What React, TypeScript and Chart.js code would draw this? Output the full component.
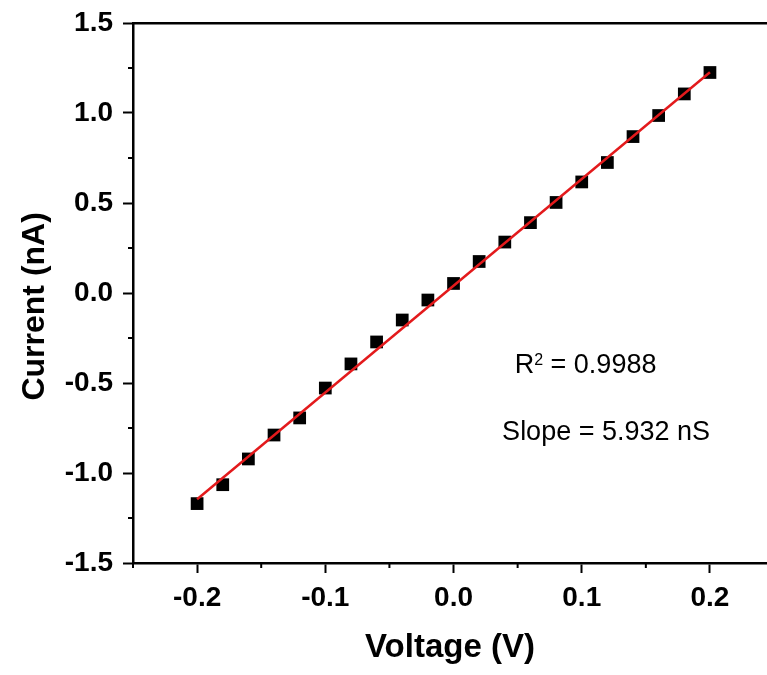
import React, { useEffect, useRef } from 'react';
import { Chart, registerables } from 'chart.js';

Chart.register(...registerables);

// ---- data ----
const voltage = [-0.2, -0.18, -0.16, -0.14, -0.12, -0.1, -0.08, -0.06, -0.04, -0.02, 0, 0.02, 0.04, 0.06, 0.08, 0.1, 0.12, 0.14, 0.16, 0.18, 0.2];
const current = [-1.17, -1.065, -0.922, -0.789, -0.694, -0.528, -0.394, -0.272, -0.15, -0.039, 0.053, 0.175, 0.283, 0.391, 0.503, 0.617, 0.725, 0.869, 0.986, 1.106, 1.225];
const fitVoltage = [-0.2, 0.2];
const fitCurrent = [-1.146, 1.226];

const xTickValues = [-0.25, -0.2, -0.15, -0.1, -0.05, 0, 0.05, 0.1, 0.15, 0.2];
const xMajorTicks = [-0.2, -0.1, 0, 0.1, 0.2];
const yTickValues = [-1.5, -1.25, -1, -0.75, -0.5, -0.25, 0, 0.25, 0.5, 0.75, 1, 1.25, 1.5];
const yMajorTicks = [-1.5, -1, -0.5, 0, 0.5, 1, 1.5];

const xTitle = 'Voltage (V)';
const yTitle = 'Current (nA)   ';
const rSquaredValue = '0.9988';
const slopeLabel = 'Slope = 5.932 nS';
const rSquaredPos = [0.0477, -0.444];
const slopePos = [0.0379, -0.817];

const FONT = '"Liberation Sans", Arial, sans-serif';

const isIn = (list: number[], v: number) => list.some((m) => Math.abs(m - v) < 1e-9);

const minorTicksPlugin = {
  id: 'minorTicks',
  afterDraw(chart: any) {
    const { ctx } = chart;
    const xs = chart.scales.x;
    const ys = chart.scales.y;
    ctx.save();
    ctx.strokeStyle = '#000';
    ctx.lineWidth = 2;
    ctx.beginPath();
    xTickValues.filter((v) => !isIn(xMajorTicks, v)).forEach((v) => {
      const px = xs.getPixelForValue(v);
      ctx.moveTo(px, xs.top);
      ctx.lineTo(px, xs.top + 5);
    });
    yTickValues.filter((v) => !isIn(yMajorTicks, v)).forEach((v) => {
      const py = ys.getPixelForValue(v);
      ctx.moveTo(ys.right - 5, py);
      ctx.lineTo(ys.right, py);
    });
    ctx.stroke();
    ctx.restore();
  },
};

const annotationPlugin = {
  id: 'fitAnnotation',
  afterDraw(chart: any) {
    const { ctx } = chart;
    const xs = chart.scales.x;
    const ys = chart.scales.y;
    ctx.save();
    ctx.fillStyle = '#000';
    ctx.textAlign = 'left';
    ctx.textBaseline = 'alphabetic';
    // R^2
    let px = xs.getPixelForValue(rSquaredPos[0]);
    const py = ys.getPixelForValue(rSquaredPos[1]);
    ctx.font = `27px ${FONT}`;
    ctx.fillText('R', px, py);
    px += ctx.measureText('R').width;
    ctx.font = `16px ${FONT}`;
    ctx.fillText('2', px, py - 8);
    px += ctx.measureText('2').width;
    ctx.font = `27px ${FONT}`;
    ctx.fillText(' = ' + rSquaredValue, px, py);
    // slope
    ctx.fillText(slopeLabel, xs.getPixelForValue(slopePos[0]), ys.getPixelForValue(slopePos[1]));
    ctx.restore();
  },
};

export default function App() {
  const canvasRef = useRef<HTMLCanvasElement | null>(null);

  useEffect(() => {
    if (!canvasRef.current) return;
    const chart = new Chart(canvasRef.current, {
      type: 'scatter',
      data: {
        datasets: [
          {
            type: 'line',
            label: 'fit',
            data: fitVoltage.map((v, i) => ({ x: v, y: fitCurrent[i] })),
            borderColor: '#e31a1c',
            borderWidth: 2.5,
            pointRadius: 0,
            fill: false,
            order: 0,
          } as any,
          {
            type: 'scatter',
            label: 'data',
            data: voltage.map((v, i) => ({ x: v, y: current[i] })),
            pointStyle: 'rect',
            pointRadius: 9,
            backgroundColor: '#000',
            borderWidth: 0,
            order: 1,
          } as any,
        ],
      },
      options: {
        animation: false,
        responsive: true,
        maintainAspectRatio: false,
        layout: { padding: 0, autoPadding: false },
        plugins: {
          legend: { display: false },
          tooltip: { enabled: false },
        },
        scales: {
          x: {
            type: 'linear',
            position: 'bottom',
            min: -0.25,
            max: 0.2445,
            afterBuildTicks: (s: any) => {
              s.ticks = xTickValues.map((v) => ({ value: v }));
            },
            afterFit: (s: any) => {
              s.height = 112;
              s.paddingLeft = 0;
              s.paddingRight = 0;
            },
            ticks: {
              color: '#000',
              padding: 8,
              autoSkip: false,
              maxRotation: 0,
              font: { family: FONT, size: 28, weight: 'bold' },
              callback: (v: any) => (isIn(xMajorTicks, Number(v)) ? Number(v).toFixed(1) : ''),
            },
            grid: {
              display: true,
              drawOnChartArea: false,
              drawTicks: true,
              tickLength: 10,
              tickWidth: 2,
              tickColor: (c: any) => (c.tick && isIn(xMajorTicks, c.tick.value) ? '#000' : 'rgba(0,0,0,0)'),
            },
            border: { display: true, color: '#000', width: 2.5 },
            title: {
              display: true,
              text: xTitle,
              color: '#000',
              font: { family: FONT, size: 33, weight: 'bold' },
              padding: { top: 0, bottom: 7 },
            },
          },
          xTop: {
            type: 'linear',
            position: 'top',
            min: -0.25,
            max: 0.2445,
            afterFit: (s: any) => {
              s.height = 23;
              s.paddingLeft = 0;
              s.paddingRight = 0;
            },
            ticks: { display: false },
            grid: { display: false },
            border: { display: true, color: '#000', width: 2.5 },
          },
          y: {
            type: 'linear',
            position: 'left',
            min: -1.5,
            max: 1.5,
            afterBuildTicks: (s: any) => {
              s.ticks = yTickValues.map((v) => ({ value: v }));
            },
            afterFit: (s: any) => {
              s.width = 133;
              s.paddingTop = 0;
              s.paddingBottom = 0;
            },
            ticks: {
              color: '#000',
              padding: 10,
              autoSkip: false,
              font: { family: FONT, size: 28, weight: 'bold' },
              callback: (v: any) => (isIn(yMajorTicks, Number(v)) ? Number(v).toFixed(1) : ''),
            },
            grid: {
              display: true,
              drawOnChartArea: false,
              drawTicks: true,
              tickLength: 10,
              tickWidth: 2,
              tickColor: (c: any) => (c.tick && isIn(yMajorTicks, c.tick.value) ? '#000' : 'rgba(0,0,0,0)'),
            },
            border: { display: true, color: '#000', width: 2.5 },
            title: {
              display: true,
              text: yTitle,
              color: '#000',
              font: { family: FONT, size: 32, weight: 'bold' },
              padding: { top: 16, bottom: 0 },
            },
          },
        },
      } as any,
      plugins: [minorTicksPlugin, annotationPlugin],
    });
    return () => chart.destroy();
  }, []);

  return (
    <div style={{ position: 'fixed', left: 0, top: 0, width: 767, height: 675, background: '#fff' }}>
      <canvas ref={canvasRef} />
    </div>
  );
}
